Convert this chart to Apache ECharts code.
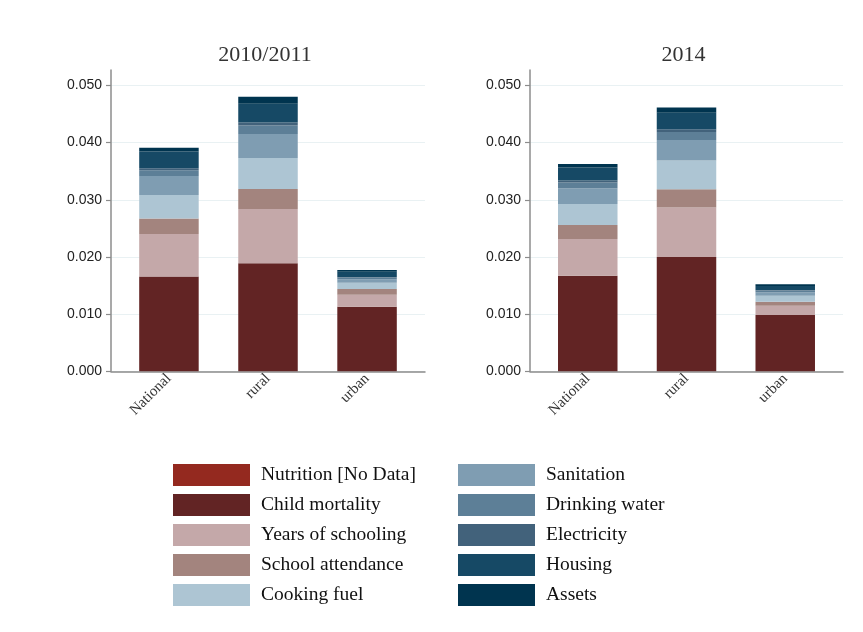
<!DOCTYPE html>
<html><head><meta charset="utf-8">
<script src="https://cdn.jsdelivr.net/npm/echarts@6/dist/echarts.min.js"></script>
<style>html,body{margin:0;padding:0;background:#fff}#c{width:863px;height:632px}</style>
</head><body><div id="c"></div>
<script>
const categories = ['National', 'rural', 'urban'];
const panelTitles = ['2010/2011', '2014'];
const yTicks = [0, 0.01, 0.02, 0.03, 0.04, 0.05];
const dimensions = ['Nutrition [No Data]', 'Child mortality', 'Years of schooling', 'School attendance', 'Cooking fuel',
  'Sanitation', 'Drinking water', 'Electricity', 'Housing', 'Assets'];
const colors = ['#94291f', '#622424', '#c4a8a9', '#a3847e', '#adc5d3', '#7f9db2', '#5d7f97', '#42627b', '#164965', '#00344f'];

// 2010/2011 values: National, rural, urban
const nutrition2010 = [0, 0, 0];
const childMortality2010 = [0.01656, 0.0189, 0.0113];
const yearsSchooling2010 = [0.00747, 0.0095, 0.0021];
const schoolAttendance2010 = [0.00268, 0.0035, 0.0010];
const cookingFuel2010 = [0.00414, 0.0054, 0.0011];
const sanitation2010 = [0.00333, 0.0042, 0.0006];
const drinkingWater2010 = [0.0010, 0.0015, 0.0003];
const electricity2010 = [0.00035, 0.0005, 0.0001];
const housing2010 = [0.0029, 0.0033, 0.0009];
const assets2010 = [0.00067, 0.0012, 0.0003];

// 2014 values: National, rural, urban
const nutrition2014 = [0, 0, 0];
const childMortality2014 = [0.01673, 0.0200, 0.00985];
const yearsSchooling2014 = [0.00642, 0.00863, 0.00163];
const schoolAttendance2014 = [0.00245, 0.00322, 0.0007];
const cookingFuel2014 = [0.00368, 0.0050, 0.00105];
const sanitation2014 = [0.00275, 0.00362, 0.0006];
const drinkingWater2014 = [0.0010, 0.0014, 0.0003];
const electricity2014 = [0.00033, 0.00047, 0.0001];
const housing2014 = [0.00228, 0.0029, 0.0007];
const assets2014 = [0.0006, 0.00088, 0.0003];

const panelData = [
  [nutrition2010, childMortality2010, yearsSchooling2010, schoolAttendance2010, cookingFuel2010,
   sanitation2010, drinkingWater2010, electricity2010, housing2010, assets2010],
  [nutrition2014, childMortality2014, yearsSchooling2014, schoolAttendance2014, cookingFuel2014,
   sanitation2014, drinkingWater2014, electricity2014, housing2014, assets2014]
];

const gridLefts = [111, 530];
const gridRights = [438, 20];
const axisColor = '#8c8c8c';

const grids = [], xAxes = [], yAxes = [], titles = [], series = [];
for (let p = 0; p < 2; p++) {
  grids.push({ left: gridLefts[p], right: gridRights[p], top: 70, bottom: 260.7, containLabel: false });
  xAxes.push({
    type: 'value', gridIndex: p, min: -0.585, max: 2.585,
    axisLine: { show: true, onZero: false, lineStyle: { color: axisColor, width: 1.5 } },
    axisTick: { show: false },
    splitLine: { show: false },
    axisLabel: {
      customValues: [0, 1, 2], rotate: 45, margin: 5,
      formatter: v => categories[Math.round(v)] || '',
      fontFamily: 'Liberation Serif', fontSize: 15, color: '#333'
    }
  });
  yAxes.push({
    type: 'value', gridIndex: p, min: 0, max: 0.0527,
    axisLine: { show: true, onZero: false, lineStyle: { color: axisColor, width: 1.5 } },
    axisTick: { show: true, length: 5, customValues: yTicks, lineStyle: { color: axisColor, width: 1.2 } },
    splitLine: { show: true, lineStyle: { color: '#e9f1f3', width: 1 } },
    axisLabel: {
      customValues: yTicks, margin: 9,
      formatter: v => v.toFixed(3),
      fontFamily: 'Liberation Sans', fontSize: 14, color: '#222'
    }
  });
  titles.push({
    text: panelTitles[p], left: (gridLefts[p] + (863 - gridRights[p])) / 2 - 3, top: 44, textAlign: 'center', padding: 0,
    textStyle: { fontFamily: 'Liberation Serif', fontSize: 22, fontWeight: 'normal', color: '#333' }
  });
  panelData[p].forEach((arr, d) => {
    series.push({
      type: 'bar', name: dimensions[d], stack: 'panel' + p,
      xAxisIndex: p, yAxisIndex: p, barWidth: 59.5,
      encode: { x: 1, y: 0 },
      data: categories.map((c, i) => [arr[i], i]),
      itemStyle: { color: colors[d] },
      emphasis: { disabled: true }
    });
  });
}

const legendBase = {
  orient: 'vertical', top: 464, itemWidth: 77, itemHeight: 22, itemGap: 8, icon: 'rect',
  selectedMode: false, padding: 0,
  textStyle: { fontFamily: 'Liberation Serif', fontSize: 19.5, color: '#111', padding: [0, 0, 0, 6] }
};

const chart = echarts.init(document.getElementById('c'), null, { renderer: 'canvas' });
chart.setOption({
  animation: false,
  backgroundColor: '#fff',
  title: titles,
  grid: grids,
  xAxis: xAxes,
  yAxis: yAxes,
  legend: [
    Object.assign({}, legendBase, { left: 173, data: dimensions.slice(0, 5) }),
    Object.assign({}, legendBase, { left: 458, data: dimensions.slice(5) })
  ],
  series: series
});
</script>
</body></html>
